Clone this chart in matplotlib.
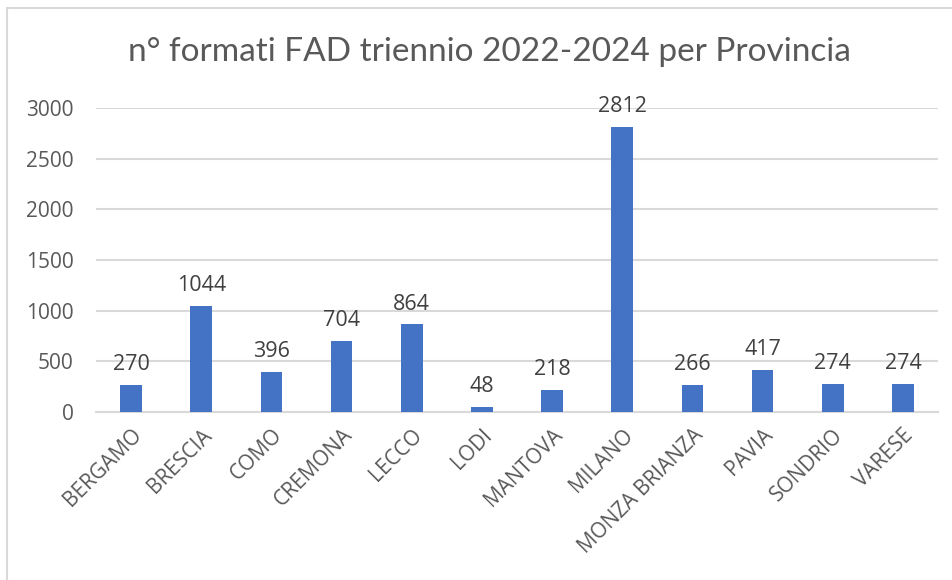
import matplotlib.pyplot as plt
from matplotlib.patches import Rectangle

# Dati: n° formati FAD per provincia (triennio 2022-2024)
province = ["BERGAMO", "BRESCIA", "COMO", "CREMONA", "LECCO", "LODI",
            "MANTOVA", "MILANO", "MONZA BRIANZA", "PAVIA", "SONDRIO", "VARESE"]
formati = [270, 1044, 396, 704, 864, 48, 218, 2812, 266, 417, 274, 274]
y_ticks = [0, 500, 1000, 1500, 2000, 2500, 3000]

plt.rcParams['font.family'] = ['Open Sans', 'DejaVu Sans']

fig = plt.figure(figsize=(9.52, 5.8), dpi=100)
ax = fig.add_axes([0.1008, 0.2897, 0.8845, 0.5241])

x = range(len(province))
ax.bar(x, formati, width=0.31, color="#4472C4", zorder=3)

# etichette dei valori sopra le barre
for i, v in zip(x, formati):
    ax.annotate(str(v), (i, v), xytext=(0, 7), textcoords="offset points",
                ha="center", va="bottom", fontsize=15.5, color="#404040")

ax.set_xlim(-0.5, len(province) - 0.5)
ax.set_ylim(0, 3000)
ax.set_yticks(y_ticks)
ax.set_xticks(list(x))
ax.set_xticklabels(province, rotation=45, ha="right", rotation_mode="anchor")
ax.tick_params(axis="both", length=0, labelcolor="#595959")
ax.tick_params(axis="y", pad=16, labelsize=15)
ax.tick_params(axis="x", pad=9, labelsize=15)
ax.grid(axis="y", color="#D9D9D9", linewidth=1.5, zorder=0)
for s in ["top", "right", "left"]:
    ax.spines[s].set_visible(False)
ax.spines["bottom"].set_color("#D9D9D9")
ax.spines["bottom"].set_linewidth(1.5)

fig.text(0.514, 0.91, "n° formati FAD triennio 2022-2024 per Provincia",
         ha="center", va="center", fontsize=24, color="#595959",
         family=["Lato", "DejaVu Sans"])

# bordo del grafico
fig.patches.append(Rectangle((7 / 952, -0.1), 1.2, 1 - 8 / 580 + 0.1,
                             transform=fig.transFigure, fill=False,
                             edgecolor="#D9D9D9", linewidth=1.5))

plt.savefig("out.png", dpi=100)
